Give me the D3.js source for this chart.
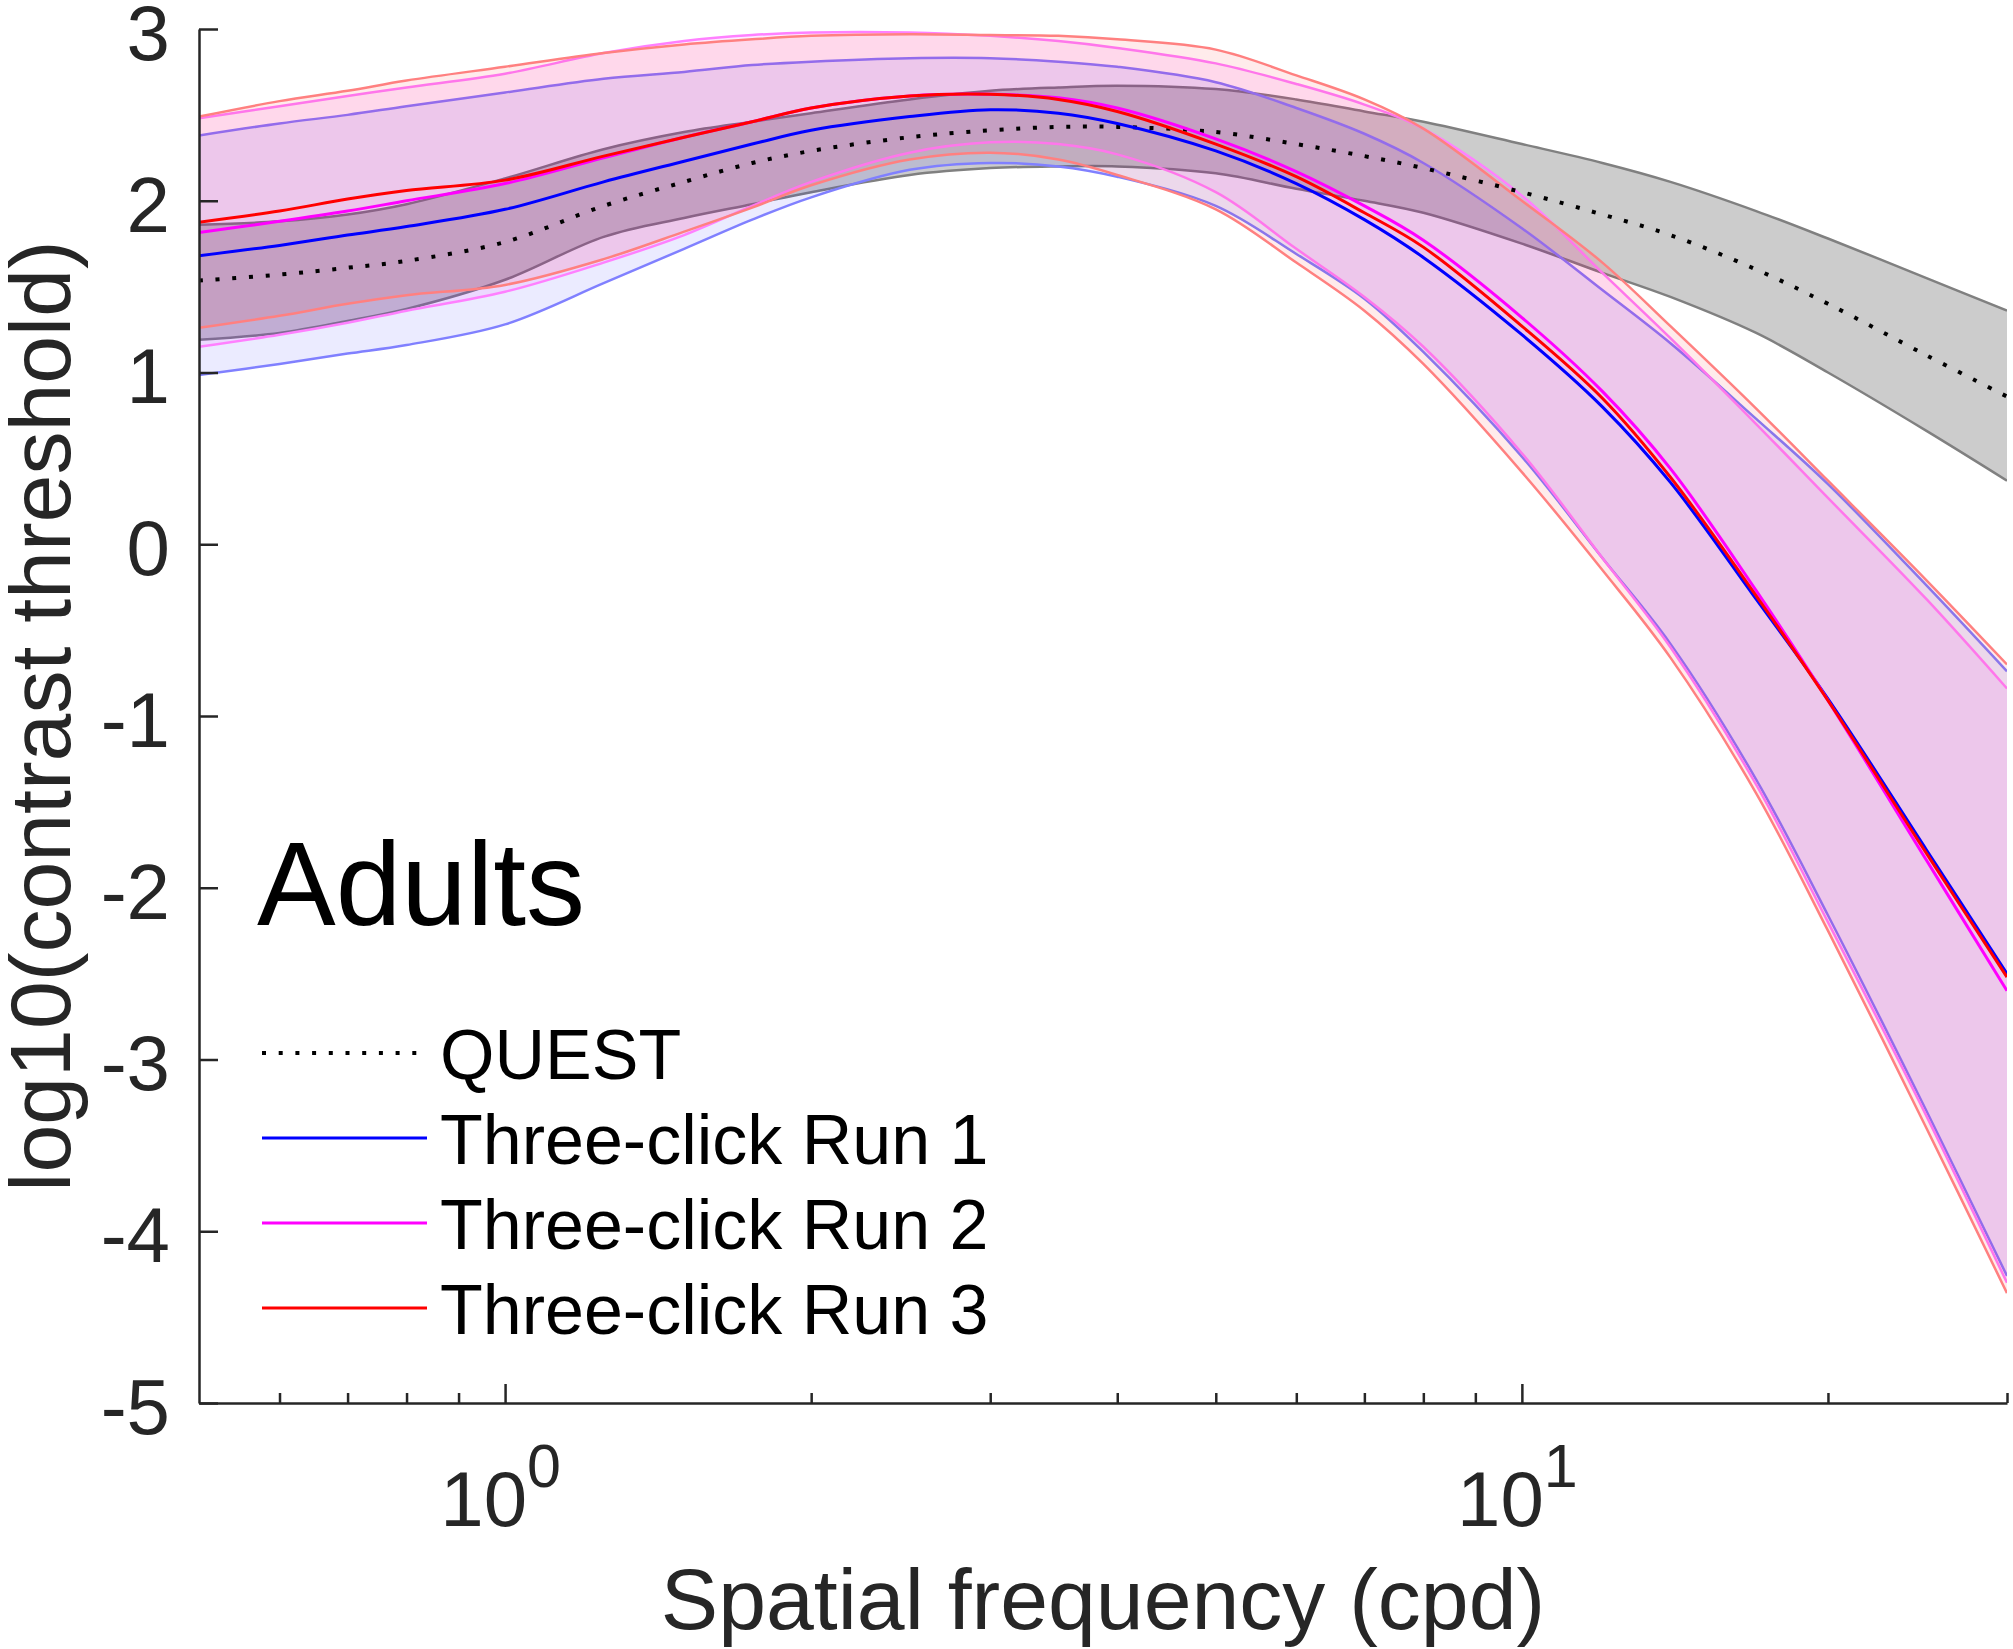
<!DOCTYPE html>
<html>
<head>
<meta charset="utf-8">
<script src="https://cdn.jsdelivr.net/npm/d3@7"></script>
<style>
  body { margin: 0; background: #fff; }
  svg { display: block; font-family: "Liberation Sans", Arial, Helvetica, sans-serif; }
</style>
</head>
<body>
<svg id="chart" width="2013" height="1649"></svg>
<script>
// spatial frequency samples (cpd)
const freqs = [0.5, 0.6, 0.7, 0.8, 1, 1.25, 1.5, 1.75, 2, 2.5, 3, 3.5, 4, 5, 6, 7, 8, 10, 12, 14, 17, 20, 25, 30];

// QUEST
const questMean  = [1.535, 1.57, 1.61, 1.65, 1.76, 1.97, 2.11, 2.22, 2.29, 2.37, 2.41, 2.43, 2.43, 2.40, 2.33, 2.26, 2.19, 2.05, 1.92, 1.80, 1.60, 1.40, 1.10, 0.86];
const questUpper = [1.86, 1.88, 1.92, 1.98, 2.13, 2.30, 2.40, 2.46, 2.51, 2.59, 2.64, 2.66, 2.67, 2.65, 2.59, 2.52, 2.46, 2.33, 2.22, 2.11, 1.94, 1.78, 1.55, 1.36];
const questLower = [1.19, 1.23, 1.30, 1.37, 1.54, 1.79, 1.90, 1.98, 2.05, 2.15, 2.19, 2.20, 2.20, 2.16, 2.07, 2.00, 1.93, 1.75, 1.58, 1.44, 1.23, 1.00, 0.66, 0.37];

// Three-click Run 1
const run1Mean  = [1.68, 1.74, 1.80, 1.85, 1.95, 2.11, 2.23, 2.33, 2.41, 2.49, 2.53, 2.51, 2.45, 2.29, 2.10, 1.89, 1.67, 1.22, 0.80, 0.36, -0.32, -0.90, -1.78, -2.50];
const run1Upper = [2.38, 2.45, 2.50, 2.55, 2.63, 2.71, 2.75, 2.79, 2.81, 2.83, 2.83, 2.81, 2.78, 2.69, 2.54, 2.39, 2.22, 1.84, 1.48, 1.17, 0.73, 0.35, -0.24, -0.74];
const run1Lower = [0.985, 1.05, 1.11, 1.16, 1.28, 1.52, 1.72, 1.89, 2.02, 2.18, 2.22, 2.20, 2.14, 1.97, 1.69, 1.43, 1.12, 0.51, -0.08, -0.58, -1.37, -2.16, -3.30, -4.26];

// Three-click Run 2
const run2Mean  = [1.815, 1.88, 1.94, 2.00, 2.10, 2.25, 2.37, 2.46, 2.54, 2.61, 2.62, 2.60, 2.54, 2.36, 2.17, 1.97, 1.77, 1.32, 0.89, 0.44, -0.27, -0.91, -1.84, -2.60];
const run2Upper = [2.48, 2.55, 2.61, 2.66, 2.74, 2.86, 2.93, 2.965, 2.98, 2.98, 2.96, 2.93, 2.89, 2.80, 2.68, 2.56, 2.42, 2.03, 1.58, 1.20, 0.70, 0.27, -0.32, -0.84];
const run2Lower = [1.15, 1.22, 1.29, 1.36, 1.47, 1.64, 1.80, 1.97, 2.11, 2.28, 2.34, 2.33, 2.27, 2.05, 1.72, 1.44, 1.15, 0.53, -0.08, -0.60, -1.40, -2.20, -3.33, -4.30];

// Three-click Run 3
const run3Mean  = [1.875, 1.94, 2.01, 2.06, 2.12, 2.26, 2.37, 2.46, 2.54, 2.61, 2.62, 2.59, 2.52, 2.33, 2.14, 1.93, 1.73, 1.27, 0.85, 0.39, -0.30, -0.91, -1.80, -2.52];
const run3Upper = [2.49, 2.58, 2.64, 2.70, 2.78, 2.86, 2.91, 2.94, 2.96, 2.97, 2.965, 2.96, 2.94, 2.88, 2.73, 2.59, 2.42, 2.00, 1.64, 1.27, 0.79, 0.37, -0.21, -0.70];
const run3Lower = [1.26, 1.33, 1.40, 1.45, 1.51, 1.66, 1.82, 1.96, 2.09, 2.24, 2.28, 2.24, 2.15, 1.95, 1.64, 1.36, 1.05, 0.42, -0.15, -0.66, -1.45, -2.25, -3.40, -4.36];

// axes
const yTicks = [-5, -4, -3, -2, -1, 0, 1, 2, 3];
const xMajorTicks = [1, 10];
const xMajorExponents = ['0', '1'];
const xMinorTicks = [0.6, 0.7, 0.8, 0.9, 2, 3, 4, 5, 6, 7, 8, 9, 20, 30];

const legendLabels = ['QUEST', 'Three-click Run 1', 'Three-click Run 2', 'Three-click Run 3'];
const panelLabel = 'Adults';

const margin = { left: 199, right: 2007, top: 29, bottom: 1403 };
const axisColor = '#262626';

const svg = d3.select('#chart');

const x = d3.scaleLog().domain([0.5, 30]).range([margin.left, margin.right]);
const y = d3.scaleLinear().domain([-5, 3]).range([margin.bottom, margin.top]);

function toRows(lower, upper) {
    return freqs.map(function (f, i) { return { f: f, lo: lower[i], hi: upper[i] }; });
}

function toPoints(values) {
    return freqs.map(function (f, i) { return { f: f, v: values[i] }; });
}

const smooth = d3.curveCatmullRom.alpha(0.5);

const area = d3.area()
    .x(function (d) { return x(d.f); })
    .y0(function (d) { return y(d.lo); })
    .y1(function (d) { return y(d.hi); })
    .curve(smooth);

const line = d3.line()
    .x(function (d) { return x(d.f); })
    .y(function (d) { return y(d.v); })
    .curve(smooth);

const bands = [
    { lower: questLower, upper: questUpper, fill: 'rgba(128,128,128,0.4)', edge: '#808080' },
    { lower: run1Lower, upper: run1Upper, fill: 'rgba(0,0,255,0.08)', edge: '#8080ff' },
    { lower: run2Lower, upper: run2Upper, fill: 'rgba(255,0,255,0.08)', edge: '#ff80ff' },
    { lower: run3Lower, upper: run3Upper, fill: 'rgba(255,0,0,0.08)', edge: '#ff8080' }
];

const means = [
    { values: questMean, color: '#000000', width: 4, dash: '4,12.7' },
    { values: run1Mean, color: '#0000ff', width: 3, dash: null },
    { values: run2Mean, color: '#ff00ff', width: 3, dash: null },
    { values: run3Mean, color: '#ff0000', width: 3, dash: null }
];

svg.append('defs').append('clipPath').attr('id', 'plotClip')
    .append('rect')
    .attr('x', margin.left).attr('y', margin.top)
    .attr('width', margin.right - margin.left)
    .attr('height', margin.bottom - margin.top);

const plot = svg.append('g').attr('clip-path', 'url(#plotClip)');

bands.forEach(function (b) {
    let g = plot.append('g').attr('class', 'band');
    g.append('path')
        .datum(toRows(b.lower, b.upper))
        .attr('d', area)
        .attr('fill', b.fill)
        .attr('stroke', 'none');
    [b.lower, b.upper].forEach(function (edge) {
        g.append('path')
            .datum(toPoints(edge))
            .attr('d', line)
            .attr('fill', 'none')
            .attr('stroke', b.edge)
            .attr('stroke-width', 2.5);
    });
});

means.forEach(function (m) {
    plot.append('path')
        .datum(toPoints(m.values))
        .attr('d', line)
        .attr('fill', 'none')
        .attr('stroke', m.color)
        .attr('stroke-width', m.width)
        .attr('stroke-dasharray', m.dash);
});

// y axis (ticks point inward)
const yAxis = svg.append('g')
    .attr('transform', 'translate(' + margin.left + ',0)')
    .call(d3.axisLeft(y)
        .tickValues(yTicks)
        .tickSizeInner(-19)
        .tickSizeOuter(0)
        .tickPadding(29)
        .tickFormat(function (d) { return String(d); }));
yAxis.selectAll('text').attr('font-size', 78).attr('fill', axisColor).attr('dy', '0.39em');

// x axis, major and minor ticks
const xAxis = svg.append('g')
    .attr('transform', 'translate(0,' + margin.bottom + ')')
    .call(d3.axisBottom(x)
        .tickValues(xMajorTicks)
        .tickSizeInner(-19)
        .tickSizeOuter(0)
        .tickFormat(''));
const xMinor = svg.append('g')
    .attr('transform', 'translate(0,' + margin.bottom + ')')
    .call(d3.axisBottom(x)
        .tickValues(xMinorTicks)
        .tickSizeInner(-10)
        .tickSizeOuter(0)
        .tickFormat(''));
xMinor.select('.domain').remove();

[yAxis, xAxis, xMinor].forEach(function (a) {
    a.attr('font-family', null);
    a.selectAll('.domain, .tick line')
        .attr('stroke', axisColor)
        .attr('stroke-width', 2.5);
});

// x tick labels as 10^n
xMajorTicks.forEach(function (t, i) {
    let lx = x(t);
    svg.append('text')
        .attr('x', lx + 22).attr('y', 1526)
        .attr('text-anchor', 'end')
        .attr('font-size', 78)
        .attr('fill', axisColor)
        .text('10');
    svg.append('text')
        .attr('x', lx + 22).attr('y', 1487)
        .attr('text-anchor', 'start')
        .attr('font-size', 61)
        .attr('fill', axisColor)
        .text(xMajorExponents[i]);
});

// axis titles
svg.append('text')
    .attr('x', (margin.left + margin.right) / 2)
    .attr('y', 1629)
    .attr('text-anchor', 'middle')
    .attr('font-size', 86)
    .attr('fill', axisColor)
    .text('Spatial frequency (cpd)');

svg.append('text')
    .attr('transform', 'translate(70,' + (margin.top + margin.bottom) / 2 + ') rotate(-90)')
    .attr('text-anchor', 'middle')
    .attr('font-size', 86)
    .attr('fill', axisColor)
    .text('log10(contrast threshold)');

// panel label
svg.append('text')
    .attr('x', 257).attr('y', 925)
    .attr('font-size', 118)
    .attr('fill', '#000')
    .text(panelLabel);

// legend
const legend = svg.append('g').attr('class', 'legend');
legendLabels.forEach(function (lab, i) {
    let ly = 1053 + i * 85;
    legend.append('line')
        .attr('x1', 262).attr('x2', 427)
        .attr('y1', ly).attr('y2', ly)
        .attr('stroke', means[i].color)
        .attr('stroke-width', means[i].width)
        .attr('stroke-dasharray', means[i].dash);
    legend.append('text')
        .attr('x', 440).attr('y', ly + 26)
        .attr('font-size', 70)
        .attr('fill', '#000')
        .text(lab);
});
</script>
</body>
</html>
